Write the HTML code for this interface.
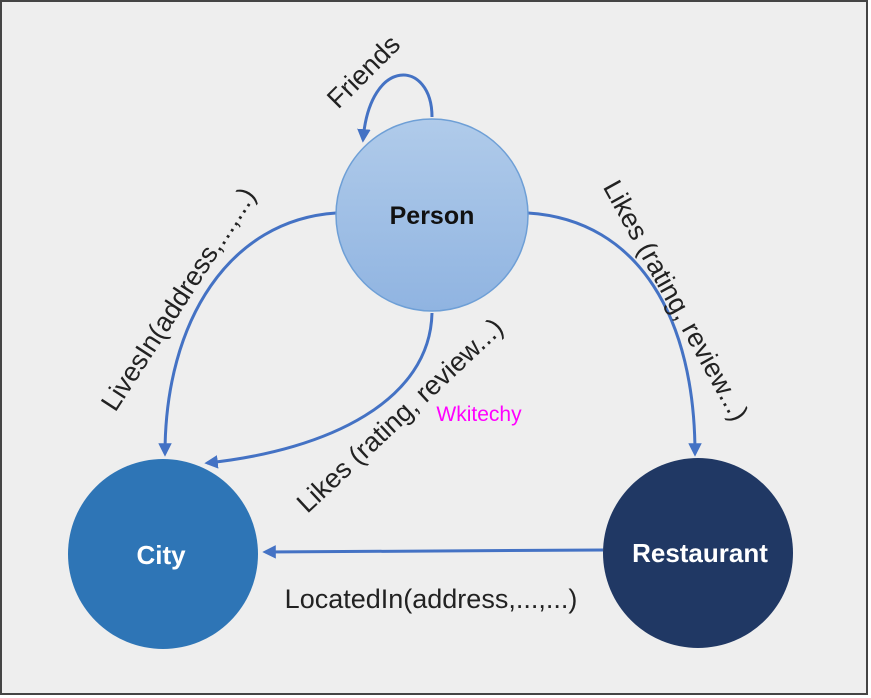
<!DOCTYPE html>
<html><head><meta charset="utf-8"><style>
html,body{margin:0;padding:0;background:#fff}
svg{display:block}
text{font-family:"Liberation Sans",sans-serif}
</style></head><body>
<svg width="871" height="698" viewBox="0 0 871 698" xmlns="http://www.w3.org/2000/svg">
<defs>
<linearGradient id="pg" x1="0" y1="0" x2="0" y2="1"><stop offset="0" stop-color="#b0cbea"/><stop offset="1" stop-color="#90b4e1"/></linearGradient>
<marker id="ar" viewBox="0 0 10 10" refX="8" refY="5" markerWidth="4.5" markerHeight="4.5" orient="auto"><path d="M0,0 L10,5 L0,10 z" fill="#4472c4"/></marker>
</defs>
<rect x="1" y="1" width="866" height="693" fill="#eeeeee" stroke="#444" stroke-width="2"/>
<g fill="none" stroke="#4472c4" stroke-width="3" marker-end="url(#ar)">
<path d="M432,117 C432,60 370,55 363,140"/>
<path d="M336,213 C230,220 165,320 165,454"/>
<path d="M528,213 C640,220 695,320 695,454"/>
<path d="M432,313 C430,400 330,450 207,463"/>
<path d="M603,550 L265,552"/>
</g>
<circle cx="432" cy="215" r="96" fill="url(#pg)" stroke="#6e9fd6" stroke-width="1.5"/>
<circle cx="163" cy="554" r="95" fill="#2e75b6"/>
<circle cx="698" cy="553" r="95" fill="#203864"/>
<text x="432" y="224" font-size="25" font-weight="bold" text-anchor="middle" fill="#111">Person</text>
<text x="161" y="564" font-size="26" font-weight="bold" text-anchor="middle" fill="#fff">City</text>
<text x="700" y="562" font-size="26" font-weight="bold" text-anchor="middle" fill="#fff">Restaurant</text>
<g font-size="27" fill="#222" text-anchor="middle">
<text transform="translate(370,78) rotate(-45)">Friends</text>
<text transform="translate(186,304) rotate(-57)">LivesIn(address,...,...)</text>
<text transform="translate(668,305) rotate(61)">Likes (rating, review...)</text>
<text transform="translate(406,422) rotate(-43)">Likes (rating, review...)</text>
<text x="431" y="608">LocatedIn(address,...,...)</text>
</g>
<text x="479" y="421" font-size="21" fill="#ff00ff" text-anchor="middle">Wkitechy</text>
</svg>
</body></html>
